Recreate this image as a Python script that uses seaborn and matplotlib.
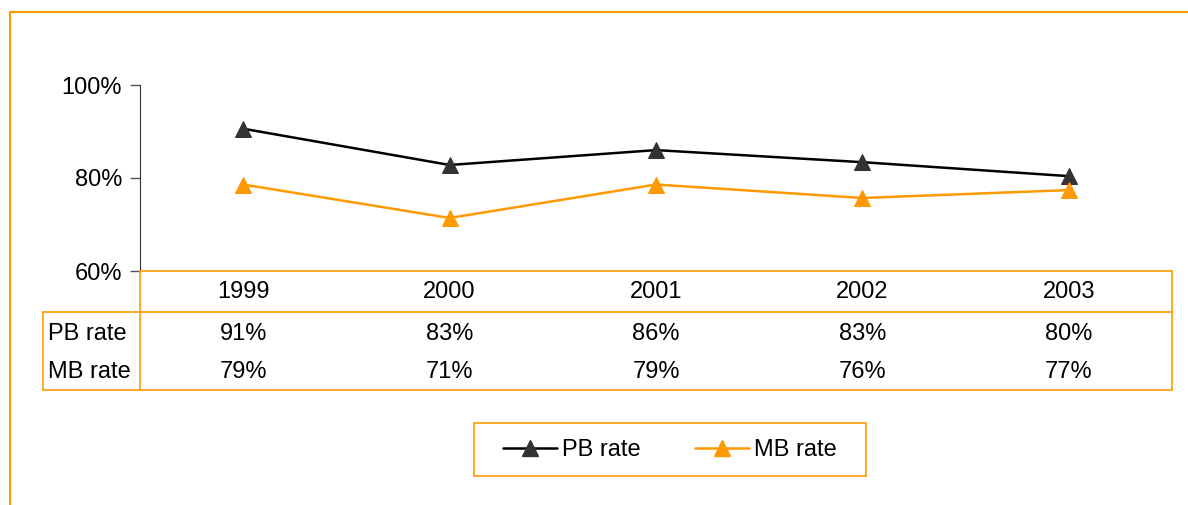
import seaborn as sns
import pandas as pd
import matplotlib.pyplot as plt
from matplotlib.lines import Line2D
from matplotlib.patches import Rectangle
import matplotlib.transforms as mtransforms

# Datos
years = ["1999", "2000", "2001", "2002", "2003"]
pb_rate = [0.906, 0.828, 0.860, 0.834, 0.804]
mb_rate = [0.786, 0.714, 0.786, 0.757, 0.774]
series_names = ["PB rate", "MB rate"]

orange = "#FF9900"
W, H = 1188, 505
FS = 17

sns.set_style("white")
plt.rcParams["font.family"] = ["Liberation Sans", "DejaVu Sans"]
plt.rcParams["text.color"] = "black"
plt.rcParams["ytick.labelcolor"] = "black"

fig = plt.figure(figsize=(W / 100, H / 100), dpi=100)
ax = fig.add_axes([140 / W, 1 - 271 / H, (1172 - 140) / W, (271 - 85) / H])

df = pd.DataFrame({"year": years, "PB rate": pb_rate, "MB rate": mb_rate})

sns.lineplot(data=df, x="year", y="PB rate", ax=ax, color="black", lw=1.8,
             marker="^", markersize=11, markerfacecolor="#333333",
             markeredgecolor="#333333", legend=False)
sns.lineplot(data=df, x="year", y="MB rate", ax=ax, color=orange, lw=1.8,
             marker="^", markersize=11, markerfacecolor=orange,
             markeredgecolor=orange, legend=False)

ax.set_xlim(-0.5, 4.5)
ax.set_ylim(0.6, 1.0)
ax.set_yticks([0.6, 0.8, 1.0])
ax.set_yticklabels(["60%", "80%", "100%"], fontsize=FS, color="black")
ax.set_xticks([])
ax.set_xlabel("")
ax.set_ylabel("")
ax.tick_params(axis="y", left=True, length=7, width=1, color="#555555", pad=6)
for s in ["top", "right"]:
    ax.spines[s].set_visible(False)
ax.spines["left"].set_color("#333333")
ax.spines["bottom"].set_color(orange)
ax.spines["bottom"].set_linewidth(1.2)

# Tabla de datos
trans = mtransforms.blended_transform_factory(ax.transData, fig.transFigure)
def fy(py):
    return 1 - py / H

for i, yr in enumerate(years):
    ax.text(i, fy(292), yr, transform=trans, ha="center", va="center", fontsize=FS)
    ax.text(i, fy(334), f"{round(pb_rate[i] * 100)}%", transform=trans,
            ha="center", va="center", fontsize=FS)
    ax.text(i, fy(372), f"{round(mb_rate[i] * 100)}%", transform=trans,
            ha="center", va="center", fontsize=FS)

fig.text(48 / W, fy(334), series_names[0], ha="left", va="center", fontsize=FS)
fig.text(48 / W, fy(372), series_names[1], ha="left", va="center", fontsize=FS)

def fline(x0, y0, x1, y1):
    fig.add_artist(Line2D([x0 / W, x1 / W], [fy(y0), fy(y1)], color=orange,
                          lw=1.2, transform=fig.transFigure))

fline(43, 312, 1172, 312)
fline(43, 390, 1172, 390)
fline(43, 312, 43, 390)
fline(140, 271, 140, 390)
fline(1172, 271, 1172, 390)

# Borde exterior
fig.add_artist(Line2D([10 / W, 10 / W, 1.0], [0.0, fy(12), fy(12)], color=orange,
                      lw=1.5, transform=fig.transFigure))

# Leyenda
handles = [
    Line2D([], [], color="black", lw=1.8, marker="^", markersize=11,
           markerfacecolor="#333333", markeredgecolor="#333333"),
    Line2D([], [], color=orange, lw=1.8, marker="^", markersize=11,
           markerfacecolor=orange, markeredgecolor=orange),
]
leg = fig.legend(handles, series_names, loc="center", bbox_to_anchor=(670 / W, fy(450)),
                 ncol=2, fontsize=FS, frameon=False,
                 handlelength=2.3, columnspacing=2.3, handletextpad=0.2)
fig.add_artist(Rectangle((474 / W, fy(476)), (866 - 474) / W, (476 - 423) / H,
                         fill=False, edgecolor=orange, lw=1.2,
                         transform=fig.transFigure))

plt.savefig("out.png", dpi=100)
